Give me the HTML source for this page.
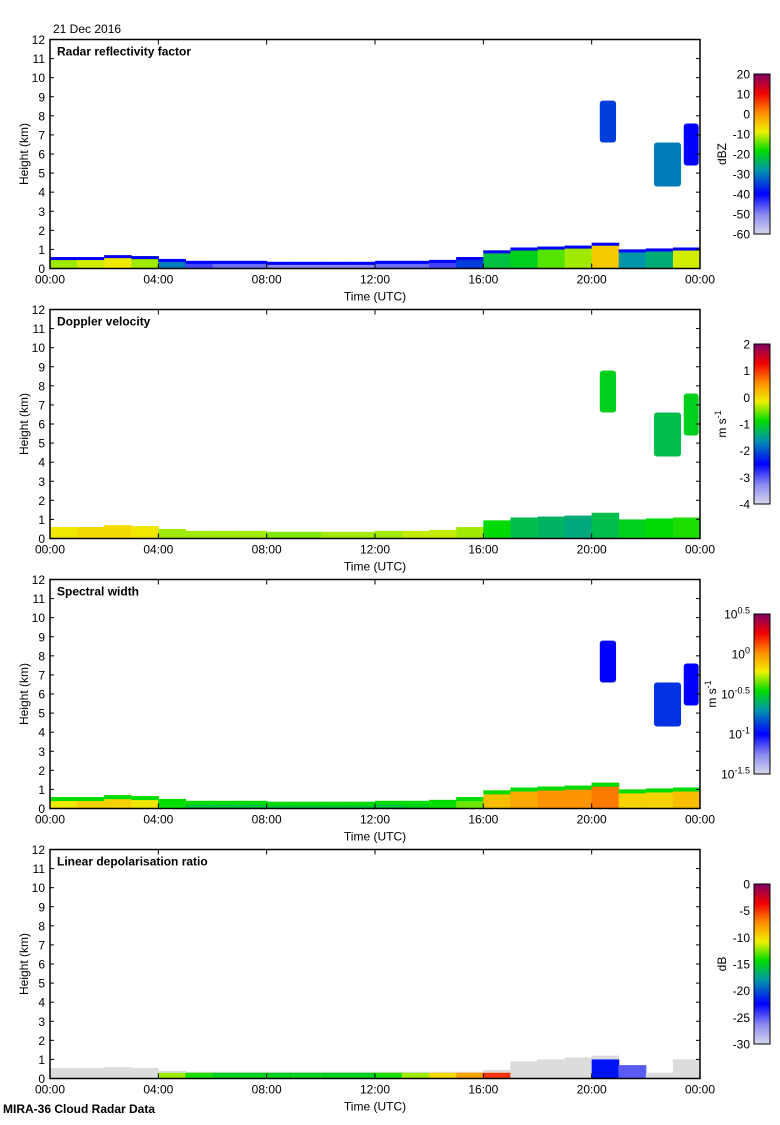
<!DOCTYPE html>
<html><head><meta charset="utf-8">
<style>
html,body{margin:0;padding:0;background:#fff;}
svg text{font-family:"Liberation Sans",sans-serif;font-size:12px;fill:#000;}
</style></head>
<body>
<svg id="chart" width="780" height="1120" viewBox="0 0 780 1120" xmlns="http://www.w3.org/2000/svg">
<text x="53" y="33">21 Dec 2016</text>
<text x="3" y="1113" style="font-weight:bold">MIRA-36 Cloud Radar Data</text>
<g id="panels"></g>
</svg>
<script>
// hourly bins 0..23 (UTC hour)
const hours = [0,1,2,3,4,5,6,7,8,9,10,11,12,13,14,15,16,17,18,19,20,21,22,23];
const layerTop = [0.6,0.6,0.7,0.65,0.5,0.4,0.4,0.4,0.35,0.35,0.35,0.35,0.4,0.4,0.45,0.6,0.95,1.1,1.15,1.2,1.35,1.0,1.05,1.1];
const reflectivity = [-12,-10,-8,-12,-30,-45,-48,-48,-50,-50,-50,-50,-48,-48,-45,-35,-22,-20,-15,-12,-5,-28,-25,-10];
const velocity = [-0.1,0.0,0.0,-0.1,-0.4,-0.4,-0.4,-0.4,-0.5,-0.5,-0.4,-0.4,-0.4,-0.3,-0.3,-0.4,-0.9,-1.2,-1.3,-1.4,-1.2,-1.0,-0.9,-0.8];
const spectralWidth = [-0.2,-0.15,-0.15,-0.2,-0.45,-0.55,-0.55,-0.55,-0.55,-0.55,-0.55,-0.55,-0.55,-0.5,-0.45,-0.35,-0.1,-0.05,0.0,0.0,0.05,-0.15,-0.15,-0.1];
const ldr = [null,null,null,null,-12,-14,-15,-15,-15,-15,-15,-15,-14,-12,-10,-8,-5,null,null,null,-22,-25,null,null];
const ldrTop = [0.55,0.55,0.6,0.55,0.4,0.35,0.35,0.35,0.35,0.35,0.35,0.35,0.35,0.35,0.35,0.35,0.45,0.9,1.0,1.1,1.2,0.7,0.3,1.0];
// elevated cloud features: [startHour, endHour, bottomKm, topKm]
const cloudStart = [20.3,22.3,23.4];
const cloudEnd = [20.9,23.3,23.95];
const cloudBase = [6.6,4.3,5.4];
const cloudTopKm = [8.8,6.6,7.6];
const cloudRefl = [-35,-30,-40];
const cloudVel = [-1.0,-1.2,-1.0];
const cloudWidth = [-1.0,-0.9,-1.0];

const yTicks = [0,1,2,3,4,5,6,7,8,9,10,11,12];
const xTickLabels = ["00:00","04:00","08:00","12:00","16:00","20:00","00:00"];

const panelDefs = [
 {title:"Radar reflectivity factor", cbLabels:["20","10","0","-10","-20","-30","-40","-50","-60"], vmin:-60, vmax:20, unit:"dBZ", data:reflectivity, cloud:cloudRefl},
 {title:"Doppler velocity", cbLabels:["2","1","0","-1","-2","-3","-4"], vmin:-4, vmax:2, unit:"m s-1", data:velocity, cloud:cloudVel},
 {title:"Spectral width", cbLabels:["10^0.5","10^0","10^-0.5","10^-1","10^-1.5"], vmin:-1.5, vmax:0.5, unit:"m s-1", data:spectralWidth, cloud:cloudWidth},
 {title:"Linear depolarisation ratio", cbLabels:["0","-5","-10","-15","-20","-25","-30"], vmin:-30, vmax:0, unit:"dB", data:ldr, cloud:null}
];

const stops = [[0,[215,215,235]],[0.12,[140,140,240]],[0.25,[0,0,255]],[0.4,[0,150,170]],[0.52,[0,220,0]],[0.64,[240,240,0]],[0.76,[255,140,0]],[0.88,[240,0,0]],[1,[128,0,100]]];
function cmap(t){t=Math.max(0,Math.min(1,t));for(let i=1;i<stops.length;i++){if(t<=stops[i][0]){const a=stops[i-1],b=stops[i];const f=(t-a[0])/(b[0]-a[0]);const c=a[1].map((v,k)=>Math.round(v+(b[1][k]-v)*f));return `rgb(${c[0]},${c[1]},${c[2]})`;}}return "rgb(128,0,100)";}

const NS="http://www.w3.org/2000/svg";
const root=document.getElementById('panels');
const defs=document.createElementNS(NS,'defs');root.appendChild(defs);
const grad=document.createElementNS(NS,'linearGradient');grad.setAttribute('id','cbgrad');grad.setAttribute('x1','0');grad.setAttribute('y1','1');grad.setAttribute('x2','0');grad.setAttribute('y2','0');
stops.forEach(s=>{const st=document.createElementNS(NS,'stop');st.setAttribute('offset',s[0]);st.setAttribute('stop-color',`rgb(${s[1].join(',')})`);grad.appendChild(st);});
defs.appendChild(grad);
function el(tag,attrs,parent){const e=document.createElementNS(NS,tag);for(const k in attrs)e.setAttribute(k,attrs[k]);parent.appendChild(e);return e;}

const X0=50,X1=700;
const xs=h=>X0+(X1-X0)*h/24;
panelDefs.forEach((p,i)=>{
 const top=39.5+270*i, bot=268.5+270*i;
 const ys=km=>bot-(bot-top)*km/12;
 const norm=v=>(v-p.vmin)/(p.vmax-p.vmin);
 const g=el('g',{},root);
 
 
 hours.forEach((h,j)=>{
  if(i===3){
   const r=el('rect',{x:xs(h),y:ys(ldrTop[j]),width:xs(h+1)-xs(h)+0.5,height:ys(0)-ys(ldrTop[j]),fill:'#dcdcdc'},g);
   
   
   if(ldr[j]!==null){
    const hk=Math.min(ldrTop[j],h>=20?1.0:0.3);
    const c=el('rect',{x:xs(h),y:ys(hk),width:xs(h+1)-xs(h)+0.5,height:ys(0)-ys(hk),fill:cmap(norm(ldr[j]))},g);
    
    
   }
   return;
  }
  const v=p.data[j], t=layerTop[j];
  const body=el('rect',{x:xs(h),y:ys(t),width:xs(h+1)-xs(h)+0.5,height:ys(0)-ys(t),fill:cmap(norm(v))},g);
  
  
  if(i===0){
   const e=el('rect',{x:xs(h),y:ys(t),width:xs(h+1)-xs(h)+0.5,height:3,fill:cmap(0.25)},g);
   
   
  } else if(i===2){
   const e=el('rect',{x:xs(h),y:ys(t),width:xs(h+1)-xs(h)+0.5,height:4,fill:cmap(0.52)},g);
   
   
  }
 });
 if(p.cloud){
  cloudStart.forEach((s,k)=>{
   const c=el('rect',{x:xs(s),y:ys(cloudTopKm[k]),width:xs(cloudEnd[k])-xs(s),height:ys(cloudBase[k])-ys(cloudTopKm[k]),fill:cmap(norm(p.cloud[k])),rx:3},g);
   
   
  });
 }
 const f=el('rect',{x:X0,y:top,width:X1-X0,height:bot-top,fill:'none',stroke:'#000','stroke-width':1.5},g);
 
 
 const tt=el('text',{x:57,y:top+16,style:'font-weight:bold'},g);tt.textContent=p.title;
 
 
 yTicks.forEach(k=>{
  const y=ys(k);
  el('line',{x1:X0,x2:X0+4,y1:y,y2:y,stroke:'#000'},g);
  el('line',{x1:X1-4,x2:X1,y1:y,y2:y,stroke:'#000'},g);
  const t=el('text',{x:45,y:y+4.5,'text-anchor':'end'},g);t.textContent=k;
  
  
 });
 xTickLabels.forEach((l,k)=>{
  const x=xs(k*4);
  el('line',{x1:x,x2:x,y1:bot-5,y2:bot,stroke:'#000'},g);
  el('line',{x1:x,x2:x,y1:top,y2:top+5,stroke:'#000'},g);
  const t=el('text',{x:x,y:bot+15,'text-anchor':'middle'},g);t.textContent=l;
  
  
 });
 const xt=el('text',{x:375,y:bot+32,'text-anchor':'middle'},g);xt.textContent='Time (UTC)';
 
 
 const yt=el('text',{x:0,y:0,'text-anchor':'middle',transform:`translate(28,${(top+bot)/2}) rotate(-90)`},g);yt.textContent='Height (km)';
 
 
 const cbT=top+34.5, cbB=top+194.5;
 const cb=el('rect',{x:754,y:cbT,width:16,height:cbB-cbT,fill:'url(#cbgrad)',stroke:'#000','stroke-width':1},g);
 
 
 const n=p.cbLabels.length;
 p.cbLabels.forEach((l,k)=>{
  const y=cbT+(cbB-cbT)*k/(n-1);
  const t=el('text',{x:750,y:y+4.5,'text-anchor':'end'},g);
  
  
  if(l.startsWith('10^')){t.textContent='10';const s=el('tspan',{dy:-5,style:'font-size:9px'},t);s.textContent=l.slice(3);}
  else t.textContent=l;
 });
 const ux = i===2 ? 716 : 726;
 const ut=el('text',{x:0,y:0,'text-anchor':'middle',transform:`translate(${ux},${(cbT+cbB)/2}) rotate(-90)`},g);
 
 
 if(p.unit==='m s-1'){ut.textContent='m s';const s=el('tspan',{dy:-5,style:'font-size:9px'},ut);s.textContent='-1';}
 else ut.textContent=p.unit;
});
</script>
</body></html>
